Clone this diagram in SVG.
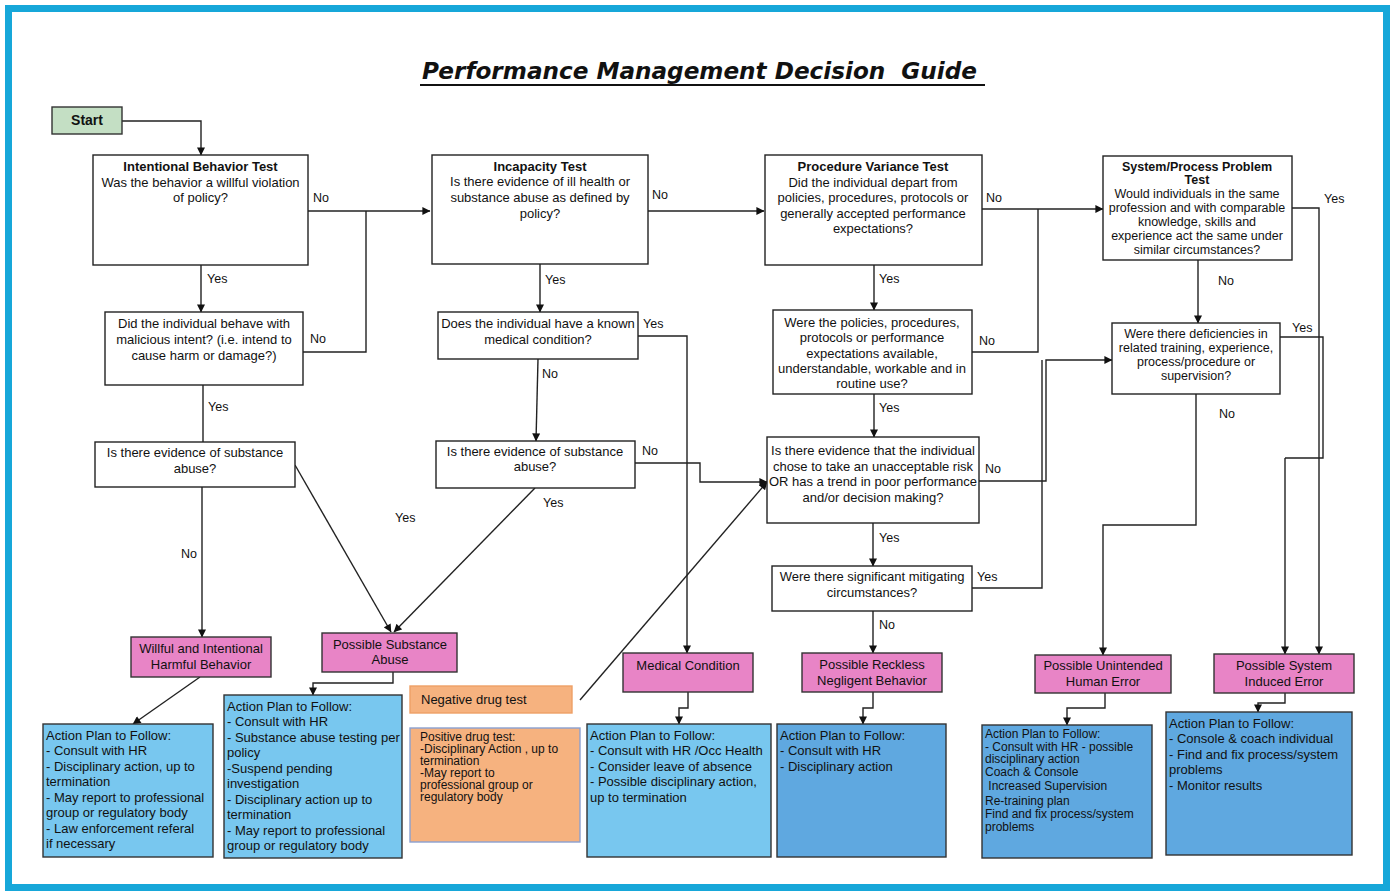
<svg xmlns="http://www.w3.org/2000/svg" width="1395" height="896" viewBox="0 0 1395 896">
<defs>
<marker id="ah" viewBox="0 0 10 10" refX="9.5" refY="5" markerWidth="9" markerHeight="8" markerUnits="userSpaceOnUse" orient="auto"><path d="M0,0 L10,5 L0,10 z" fill="#111"/></marker>
<style>
.q{fill:#fff;stroke:#222;stroke-width:1.4}
.pk{fill:#e884c6;stroke:#333;stroke-width:1.4}
.b1{fill:#78c7ef;stroke:#333;stroke-width:1.4}
.b2{fill:#5fa8e0;stroke:#333;stroke-width:1.4}
.or{fill:#f6b27f;stroke:#eea066;stroke-width:1.4}
.or2{fill:#f6b27f;stroke:#8aa0d0;stroke-width:1.4}
text{font-family:"Liberation Sans",Arial,sans-serif;font-size:13px;fill:#111}
.c{text-anchor:middle}
.bd{font-weight:bold}
.s{font-size:12.5px}
.lb{font-size:12.5px}
.tt{font-size:12px}
.ln{fill:none;stroke:#222;stroke-width:1.4}
.ar{marker-end:url(#ah)}
</style>
</defs>
<rect x="0" y="0" width="1395" height="896" fill="#fff"/>
<rect x="8.5" y="8.5" width="1378" height="879" fill="none" stroke="#17a7d9" stroke-width="7"/>
<g id="title">
<text x="422" y="79" xml:space="preserve" style="font-family:'DejaVu Sans',Verdana,sans-serif;font-size:23px;font-weight:bold;font-style:italic" textLength="555" lengthAdjust="spacingAndGlyphs">Performance Management Decision  Guide</text>
<line x1="420" y1="85" x2="985" y2="85" stroke="#111" stroke-width="2"/>
</g>
<g id="connectors">
<path class="ln ar" d="M122,121 H201 V155"/>
<path class="ln ar" d="M308,211 H430"/>
<path class="ln" d="M303,352 H366 V211"/>
<path class="ln ar" d="M201,265 V312"/>
<path class="ln" d="M203,385 V442"/>
<path class="ln ar" d="M202,487 V637"/>
<path class="ln ar" d="M295,465 L391,632"/>
<path class="ln ar" d="M535,488 L394,632"/>
<path class="ln ar" d="M648,211 H764"/>
<path class="ln ar" d="M540,264 V312"/>
<path class="ln ar" d="M638,336 H687 V653"/>
<path class="ln ar" d="M538,359 L536,441"/>
<path class="ln ar" d="M635,463 H700 V482 H767"/>
<path class="ln ar" d="M580,700 L767,482"/>
<path class="ln ar" d="M982,209 H1103"/>
<path class="ln" d="M972,352 H1038 V209"/>
<path class="ln ar" d="M874,265 V310"/>
<path class="ln ar" d="M874,394 V437"/>
<path class="ln ar" d="M979,481 H1046 V360 H1112"/>
<path class="ln" d="M972,588 H1042 V360"/>
<path class="ln ar" d="M873,523 V566"/>
<path class="ln ar" d="M873,611 V653"/>
<path class="ln ar" d="M1292,208 H1319 V654"/>
<path class="ln ar" d="M1198,260 V323"/>
<path class="ln" d="M1280,337 H1323 V458 H1285"/>
<path class="ln ar" d="M1285,458 V654"/>
<path class="ln ar" d="M1196,394 V525 H1103 V655"/>
<path class="ln ar" d="M200,677 L133,724"/>
<path class="ln ar" d="M393,672 V683 H313 V695"/>
<path class="ln ar" d="M688,692 V708 H679 V724"/>
<path class="ln ar" d="M873,692 V708 H863 V724"/>
<path class="ln ar" d="M1105,693 V708 H1067 V725"/>
<path class="ln ar" d="M1285,693 V703 H1258 V712"/>
<text class="lb" x="313" y="202">No</text>
<text class="lb" x="207" y="283">Yes</text>
<text class="lb" x="310" y="343">No</text>
<text class="lb" x="208" y="411">Yes</text>
<text class="lb" x="181" y="558">No</text>
<text class="lb" x="395" y="522">Yes</text>
<text class="lb" x="652" y="199">No</text>
<text class="lb" x="545" y="284">Yes</text>
<text class="lb" x="643" y="328">Yes</text>
<text class="lb" x="542" y="378">No</text>
<text class="lb" x="642" y="455">No</text>
<text class="lb" x="543" y="507">Yes</text>
<text class="lb" x="986" y="202">No</text>
<text class="lb" x="879" y="283">Yes</text>
<text class="lb" x="979" y="345">No</text>
<text class="lb" x="879" y="412">Yes</text>
<text class="lb" x="985" y="473">No</text>
<text class="lb" x="879" y="542">Yes</text>
<text class="lb" x="977" y="581">Yes</text>
<text class="lb" x="879" y="629">No</text>
<text class="lb" x="1324" y="203">Yes</text>
<text class="lb" x="1218" y="285">No</text>
<text class="lb" x="1292" y="332">Yes</text>
<text class="lb" x="1219" y="418">No</text>
</g>
<g id="start">
<rect x="52" y="107" width="70" height="27" fill="#c4dfc4" stroke="#333" stroke-width="1.4"/>
<text class="c bd" x="87" y="125" style="font-size:14px">Start</text>
</g>
<g id="intentional">
<rect class="q" x="93" y="155" width="215" height="110"/>
<text class="c bd" x="200.5" y="171">Intentional Behavior Test</text>
<text class="c" x="200.5" y="187">Was the behavior a willful violation</text>
<text class="c" x="200.5" y="202">of policy?</text>
</g>
<g id="malicious">
<rect class="q" x="105" y="312" width="198" height="73"/>
<text class="c" x="204" y="328">Did the individual behave with</text>
<text class="c" x="204" y="344">malicious intent? (i.e. intend to</text>
<text class="c" x="204" y="360">cause harm or damage?)</text>
</g>
<g id="substance1">
<rect class="q" x="95" y="442" width="200" height="45"/>
<text class="c" x="195" y="457">Is there evidence of substance</text>
<text class="c" x="195" y="473">abuse?</text>
</g>
<g id="incapacity">
<rect class="q" x="432" y="155" width="216" height="109"/>
<text class="c bd" x="540" y="171">Incapacity Test</text>
<text class="c" x="540" y="186">Is there evidence of ill health or</text>
<text class="c" x="540" y="202">substance abuse as defined by</text>
<text class="c" x="540" y="218">policy?</text>
</g>
<g id="medicalq">
<rect class="q" x="438" y="312" width="200" height="47"/>
<text class="c" x="538" y="328">Does the individual have a known</text>
<text class="c" x="538" y="344">medical condition?</text>
</g>
<g id="substance2">
<rect class="q" x="436" y="441" width="199" height="47"/>
<text class="c" x="535" y="456">Is there evidence of substance</text>
<text class="c" x="535" y="471">abuse?</text>
</g>
<g id="procedure">
<rect class="q" x="765" y="155" width="217" height="110"/>
<text class="c bd" x="873" y="171">Procedure Variance Test</text>
<text class="c" x="873" y="187">Did the individual depart from</text>
<text class="c" x="873" y="202">policies, procedures, protocols or</text>
<text class="c" x="873" y="218">generally accepted performance</text>
<text class="c" x="873" y="233">expectations?</text>
</g>
<g id="policies">
<rect class="q" x="773" y="310" width="199" height="84"/>
<text class="c" x="872" y="327">Were the policies, procedures,</text>
<text class="c" x="872" y="342">protocols or performance</text>
<text class="c" x="872" y="358">expectations available,</text>
<text class="c" x="872" y="373">understandable, workable and in</text>
<text class="c" x="872" y="388">routine use?</text>
</g>
<g id="evidence">
<rect class="q" x="767" y="437" width="212" height="86"/>
<text class="c" x="873" y="455">Is there evidence that the individual</text>
<text class="c" x="873" y="471">chose to take an unacceptable risk</text>
<text class="c" x="873" y="486">OR has a trend in poor performance</text>
<text class="c" x="873" y="502">and/or decision making?</text>
</g>
<g id="mitigating">
<rect class="q" x="772" y="566" width="200" height="45"/>
<text class="c" x="872" y="581">Were there significant mitigating</text>
<text class="c" x="872" y="597">circumstances?</text>
</g>
<g id="system">
<rect class="q" x="1103" y="156" width="189" height="104"/>
<text class="c bd s" x="1197" y="170.5">System/Process Problem</text>
<text class="c bd s" x="1197" y="183.5">Test</text>
<text class="c s" x="1197" y="197.5">Would individuals in the same</text>
<text class="c s" x="1197" y="211.5">profession and with comparable</text>
<text class="c s" x="1197" y="225.5">knowledge, skills and</text>
<text class="c s" x="1197" y="239.5">experience act the same under</text>
<text class="c s" x="1197" y="253.5">similar circumstances?</text>
</g>
<g id="deficiencies">
<rect class="q" x="1112" y="323" width="168" height="71"/>
<text class="c s" x="1196" y="337.5">Were there deficiencies in</text>
<text class="c s" x="1196" y="351.5">related training, experience,</text>
<text class="c s" x="1196" y="365.5">process/procedure or</text>
<text class="c s" x="1196" y="379.5">supervision?</text>
</g>
<g id="willful">
<rect class="pk" x="131" y="637" width="140" height="40"/>
<text class="c" x="201" y="653">Willful and Intentional</text>
<text class="c" x="201" y="669">Harmful Behavior</text>
</g>
<g id="substanceabuse">
<rect class="pk" x="322" y="633" width="135" height="39"/>
<text class="c" x="390" y="649">Possible Substance</text>
<text class="c" x="390" y="664">Abuse</text>
</g>
<g id="medical">
<rect class="pk" x="623" y="653" width="130" height="39"/>
<text class="c" x="688" y="670">Medical Condition</text>
</g>
<g id="reckless">
<rect class="pk" x="802" y="653" width="140" height="39"/>
<text class="c" x="872" y="669">Possible Reckless</text>
<text class="c" x="872" y="685">Negligent Behavior</text>
</g>
<g id="unintended">
<rect class="pk" x="1035" y="655" width="136" height="38"/>
<text class="c" x="1103" y="670">Possible Unintended</text>
<text class="c" x="1103" y="686">Human Error</text>
</g>
<g id="systemerror">
<rect class="pk" x="1214" y="654" width="140" height="39"/>
<text class="c" x="1284" y="670">Possible System</text>
<text class="c" x="1284" y="686">Induced Error</text>
</g>
<g id="action1">
<rect class="b1" x="43" y="724" width="170" height="133"/>
<text x="46" y="739.5">Action Plan to Follow:</text>
<text x="46" y="754.5">- Consult with HR</text>
<text x="46" y="770.5">- Disciplinary action, up to</text>
<text x="46" y="785.5">termination</text>
<text x="46" y="801.5">- May report to professional</text>
<text x="46" y="816.5">group or regulatory body</text>
<text x="46" y="832.5">- Law enforcement referal</text>
<text x="46" y="847.5">if necessary</text>
</g>
<g id="action2">
<rect class="b1" x="224" y="695" width="178" height="163"/>
<text x="227" y="710.5">Action Plan to Follow:</text>
<text x="227" y="725.5">- Consult with HR</text>
<text x="227" y="741.5">- Substance abuse testing per</text>
<text x="227" y="756.5">policy</text>
<text x="227" y="772.5">-Suspend pending</text>
<text x="227" y="787.5">investigation</text>
<text x="227" y="803.5">- Disciplinary action up to</text>
<text x="227" y="818.5">termination</text>
<text x="227" y="834.5">- May report to professional</text>
<text x="227" y="849.5">group or regulatory body</text>
</g>
<g id="negative">
<rect class="or" x="410" y="686" width="162" height="27"/>
<text x="421" y="704">Negative drug test</text>
</g>
<g id="positive">
<rect class="or2" x="410" y="728" width="170" height="114"/>
<text class="tt" x="420" y="741">Positive drug test:</text>
<text class="tt" x="420" y="753">-Disciplinary Action , up to</text>
<text class="tt" x="420" y="765">termination</text>
<text class="tt" x="420" y="777">-May report to</text>
<text class="tt" x="420" y="789">professional group or</text>
<text class="tt" x="420" y="801">regulatory body</text>
</g>
<g id="action3">
<rect class="b1" x="587" y="724" width="184" height="133"/>
<text x="590" y="739.5">Action Plan to Follow:</text>
<text x="590" y="754.5">- Consult with HR /Occ Health</text>
<text x="590" y="770.5">- Consider leave of absence</text>
<text x="590" y="785.5">- Possible disciplinary action,</text>
<text x="590" y="801.5">up to termination</text>
</g>
<g id="action4">
<rect class="b2" x="777" y="724" width="169" height="133"/>
<text x="780" y="739.5">Action Plan to Follow:</text>
<text x="780" y="754.5">- Consult with HR</text>
<text x="780" y="770.5">- Disciplinary action</text>
</g>
<g id="action5">
<rect class="b2" x="982" y="725" width="170" height="133"/>
<text class="tt" x="985" y="738">Action Plan to Follow:</text>
<text class="tt" x="985" y="750.5">- Consult with HR - possible</text>
<text class="tt" x="985" y="763">disciplinary action</text>
<text class="tt" x="985" y="775.5">Coach &amp; Console</text>
<text class="tt" x="985" y="790" xml:space="preserve"> Increased Supervision</text>
<text class="tt" x="985" y="805">Re-training plan</text>
<text class="tt" x="985" y="818">Find and fix process/system</text>
<text class="tt" x="985" y="831">problems</text>
</g>
<g id="action6">
<rect class="b2" x="1166" y="712" width="186" height="143"/>
<text x="1169" y="727.5">Action Plan to Follow:</text>
<text x="1169" y="742.5">- Console &amp; coach individual</text>
<text x="1169" y="758.5">- Find and fix process/system</text>
<text x="1169" y="774">problems</text>
<text x="1169" y="790">- Monitor results</text>
</g>
</svg>
